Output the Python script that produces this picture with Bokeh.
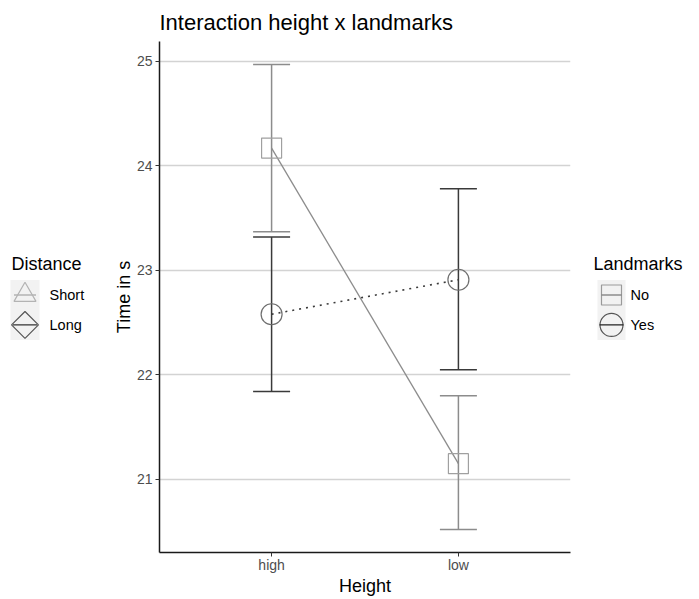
import numpy as np
from bokeh.plotting import figure
from bokeh.models import ColumnDataSource, Range1d, FixedTicker, Whisker, TeeHead
from bokeh.layouts import row
from bokeh.embed import file_html
from bokeh.resources import INLINE
from bokeh.core.properties import value

# ---------------- data ----------------
heights = ["high", "low"]
height_pos = [1, 2]
no_mean = [24.17, 21.15]
no_lower = [23.37, 20.52]
no_upper = [24.97, 21.80]
yes_mean = [22.58, 22.91]
yes_lower = [21.84, 22.05]
yes_upper = [23.32, 23.78]
y_ticks = [21, 22, 23, 24, 25]
distance_labels = ["Short", "Long"]
landmark_labels = ["No", "Yes"]

# ---------------- style ----------------
FONT = "Liberation Sans"
NO_COL = "#8c8c8c"
YES_COL = "#3a3a3a"
NO_PT = "#a0a0a0"
YES_PT = "#6e6e6e"
H = 599
FRAME_TOP = 40
FRAME_BOTTOM = 552

p = figure(width=468, height=H, x_range=Range1d(0.4, 2.6), y_range=Range1d(20.30, 25.19),
           output_backend="svg", toolbar_location=None,
           min_border_left=49, min_border_right=8, min_border_top=FRAME_TOP,
           min_border_bottom=H - FRAME_BOTTOM,
           title="Interaction height x landmarks")
p.title.text_font = FONT
p.title.text_font_size = "22px"
p.title.text_font_style = "normal"
p.title.text_color = "black"
p.title.align = "left"
p.title.standoff = 14

p.outline_line_color = None
p.xgrid.grid_line_color = None
p.ygrid.grid_line_color = "#d3d3d3"
p.ygrid.grid_line_width = 1.3

p.yaxis.ticker = FixedTicker(ticks=y_ticks)
p.xaxis.ticker = FixedTicker(ticks=height_pos)
p.xaxis.major_label_overrides = dict(zip(height_pos, heights))
p.xaxis.axis_label = "Height"
p.yaxis.axis_label = "Time in s"
for ax in (p.xaxis[0], p.yaxis[0]):
    ax.axis_line_color = "#1a1a1a"
    ax.axis_line_width = 1.5
    ax.major_tick_line_color = "#333333"
    ax.major_tick_out = 4
    ax.major_tick_in = 0
    ax.minor_tick_line_color = None
    ax.major_label_text_font = FONT
    ax.major_label_text_font_size = "14px"
    ax.major_label_text_color = "#4d4d4d"
    ax.axis_label_text_font = FONT
    ax.axis_label_text_font_size = "18px"
    ax.axis_label_text_font_style = "normal"
    ax.axis_label_text_color = "black"
p.xaxis.major_label_standoff = 0
p.xaxis.axis_label_standoff = 0
p.yaxis.major_label_standoff = 3
p.yaxis.axis_label_standoff = 0

src_no = ColumnDataSource(dict(x=height_pos, mean=no_mean, lower=no_lower, upper=no_upper))
src_yes = ColumnDataSource(dict(x=height_pos, mean=yes_mean, lower=yes_lower, upper=yes_upper))

for src, col in ((src_yes, YES_COL), (src_no, NO_COL)):
    p.add_layout(Whisker(base="x", lower="lower", upper="upper", source=src,
                         line_color=col, line_width=1.5,
                         upper_head=TeeHead(size=37, line_color=col, line_width=1.5),
                         lower_head=TeeHead(size=37, line_color=col, line_width=1.5)))

p.line("x", "mean", source=src_yes, line_color=YES_COL, line_width=1.6, line_dash="2 5")
p.line("x", "mean", source=src_no, line_color=NO_COL, line_width=1.3)
p.scatter("x", "mean", source=src_no, marker="square", size=20, fill_color=None,
          line_color=NO_PT, line_width=1.2)
p.scatter("x", "mean", source=src_yes, marker="circle", size=21, fill_color=None,
          line_color=YES_PT, line_width=1.2)


# ---------------- legends (separate panels, y in page pixels) ----------------
def legend_fig(width):
    f = figure(width=width, height=H, x_range=Range1d(0, width),
               y_range=Range1d(FRAME_BOTTOM, FRAME_TOP),
               output_backend="svg", toolbar_location=None, min_border=0,
               min_border_top=FRAME_TOP, min_border_bottom=H - FRAME_BOTTOM,
               x_axis_location=None, y_axis_location=None, outline_line_color=None)
    f.xgrid.visible = False
    f.ygrid.visible = False
    return f


title_y = 263
key_y = [294, 324]

# Distance legend (left)
lf = legend_fig(110)
lcx = 24.5
lf.text(x=[11], y=[title_y], text=["Distance"], text_font=value(FONT), text_font_size="18px",
        text_baseline="middle", text_align="left", text_color="black")
lf.rect(x=[lcx, lcx], y=key_y, width=29, height=30, fill_color="#f2f2f2", line_color=None)
lf.scatter(x=[lcx], y=[key_y[0]], marker="triangle", size=22, fill_color=None,
           line_color="#b3b3b3", line_width=1.2)
lf.segment(x0=[lcx - 11], x1=[lcx + 11], y0=[key_y[0]], y1=[key_y[0]],
           line_color="#b3b3b3", line_width=1.3)
lf.scatter(x=[lcx], y=[key_y[1]], marker="square", angle=np.pi / 4, size=19, fill_color=None,
           line_color="#555555", line_width=1.2)
lf.segment(x0=[lcx - 12], x1=[lcx + 12], y0=[key_y[1]], y1=[key_y[1]],
           line_color="#333333", line_width=1.3)
lf.text(x=[49, 49], y=key_y, text=distance_labels, text_font=value(FONT), text_font_size="14.5px",
        text_baseline="middle", text_align="left", text_color="black")

# Landmarks legend (right)
rf = legend_fig(121)
rcx = 33
rf.text(x=[15], y=[title_y], text=["Landmarks"], text_font=value(FONT), text_font_size="18px",
        text_baseline="middle", text_align="left", text_color="black")
rf.rect(x=[rcx, rcx], y=key_y, width=28, height=30, fill_color="#f2f2f2", line_color=None)
rf.scatter(x=[rcx], y=[key_y[0]], marker="square", size=20, fill_color=None,
           line_color="#9a9a9a", line_width=1.2)
rf.segment(x0=[rcx - 10.5], x1=[rcx + 10.5], y0=[key_y[0]], y1=[key_y[0]],
           line_color="#8c8c8c", line_width=1.3)
rf.scatter(x=[rcx], y=[key_y[1]], marker="circle", size=23, fill_color=None,
           line_color="#555555", line_width=1.2)
rf.segment(x0=[rcx - 12], x1=[rcx + 12], y0=[key_y[1]], y1=[key_y[1]],
           line_color="#222222", line_width=1.3)
rf.text(x=[52, 52], y=key_y, text=landmark_labels, text_font=value(FONT), text_font_size="14.5px",
        text_baseline="middle", text_align="left", text_color="black")

layout = row(lf, p, rf)
open("out.html", "w").write(file_html(layout, INLINE))
